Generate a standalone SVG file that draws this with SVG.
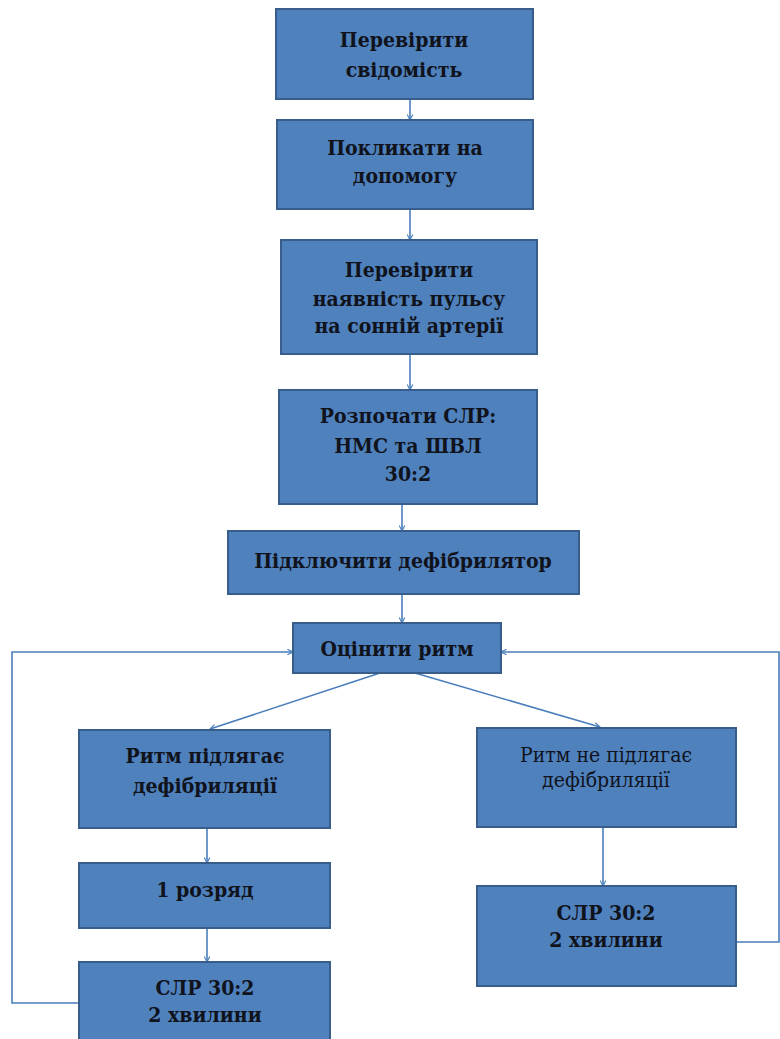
<svg xmlns="http://www.w3.org/2000/svg" width="780" height="1039" viewBox="0 0 780 1039">
<style>
.box{fill:#4F81BD;stroke:#385D8A;stroke-width:2}
.t{font-family:'DejaVu Serif Condensed','DejaVu Serif',serif;font-stretch:condensed;font-size:21px;font-weight:bold;fill:#10131c;text-anchor:middle}
.n{font-weight:normal}
.c{fill:none;stroke:#4A7EBB;stroke-width:1.6}
</style>
<defs>
<marker id="ah" viewBox="0 0 10 10" refX="9" refY="5" markerWidth="7" markerHeight="7" orient="auto" markerUnits="userSpaceOnUse">
<path d="M1,1 L9,5 L1,9" fill="none" stroke="#4A7EBB" stroke-width="1.6"/>
</marker>
</defs>
<rect width="780" height="1039" fill="#ffffff"/>
<g id="connectors">
<line class="c" x1="410" y1="99" x2="410" y2="120" marker-end="url(#ah)"/>
<line class="c" x1="410" y1="209" x2="410" y2="240" marker-end="url(#ah)"/>
<line class="c" x1="410" y1="354" x2="410" y2="390" marker-end="url(#ah)"/>
<line class="c" x1="402" y1="504" x2="402" y2="531" marker-end="url(#ah)"/>
<line class="c" x1="402" y1="594" x2="402" y2="623" marker-end="url(#ah)"/>
<line class="c" x1="380" y1="673" x2="210" y2="729" marker-end="url(#ah)"/>
<line class="c" x1="415" y1="673" x2="600" y2="727" marker-end="url(#ah)"/>
<line class="c" x1="207" y1="828" x2="207" y2="863" marker-end="url(#ah)"/>
<line class="c" x1="207" y1="928" x2="207" y2="962" marker-end="url(#ah)"/>
<line class="c" x1="603" y1="827" x2="603" y2="886" marker-end="url(#ah)"/>
<polyline class="c" points="79,1003 12,1003 12,652 293,652" marker-end="url(#ah)"/>
<polyline class="c" points="736,942 779,942 779,652 501,652" marker-end="url(#ah)"/>
</g>
<g id="n1"><rect class="box" x="276" y="9" width="257" height="90"/>
<text class="t" x="404" y="47">Перевірити</text><text class="t" x="404" y="77">свідомість</text></g>
<g id="n2"><rect class="box" x="277" y="120" width="256" height="89"/>
<text class="t" x="405" y="155">Покликати на</text><text class="t" x="405" y="183">допомогу</text></g>
<g id="n3"><rect class="box" x="281" y="240" width="256" height="114"/>
<text class="t" x="409" y="277">Перевірити</text><text class="t" x="409" y="306">наявність пульсу</text><text class="t" x="409" y="333">на сонній артерії</text></g>
<g id="n4"><rect class="box" x="279" y="390" width="258" height="114"/>
<text class="t" x="408" y="423">Розпочати СЛР:</text><text class="t" x="408" y="453">НМС та ШВЛ</text><text class="t" x="408" y="481">30:2</text></g>
<g id="n5"><rect class="box" x="228" y="531" width="351" height="63"/>
<text class="t" x="403" y="568">Підключити дефібрилятор</text></g>
<g id="n6"><rect class="box" x="293" y="623" width="208" height="50"/>
<text class="t" x="397" y="656">Оцінити ритм</text></g>
<g id="n7"><rect class="box" x="79" y="730" width="251" height="98"/>
<text class="t" x="205" y="763">Ритм підлягає</text><text class="t" x="205" y="793">дефібриляції</text></g>
<g id="n8"><rect class="box" x="79" y="863" width="251" height="65"/>
<text class="t" x="205" y="897">1 розряд</text></g>
<g id="n9"><rect class="box" x="79" y="962" width="251" height="90"/>
<text class="t" x="205" y="995">СЛР 30:2</text><text class="t" x="205" y="1022">2 хвилини</text></g>
<g id="n10"><rect class="box" x="477" y="728" width="259" height="99"/>
<text class="t n" x="606" y="762">Ритм не підлягає</text><text class="t n" x="606" y="787">дефібриляції</text></g>
<g id="n11"><rect class="box" x="477" y="886" width="259" height="100"/>
<text class="t" x="606" y="920">СЛР 30:2</text><text class="t" x="606" y="947">2 хвилини</text></g>
</svg>
